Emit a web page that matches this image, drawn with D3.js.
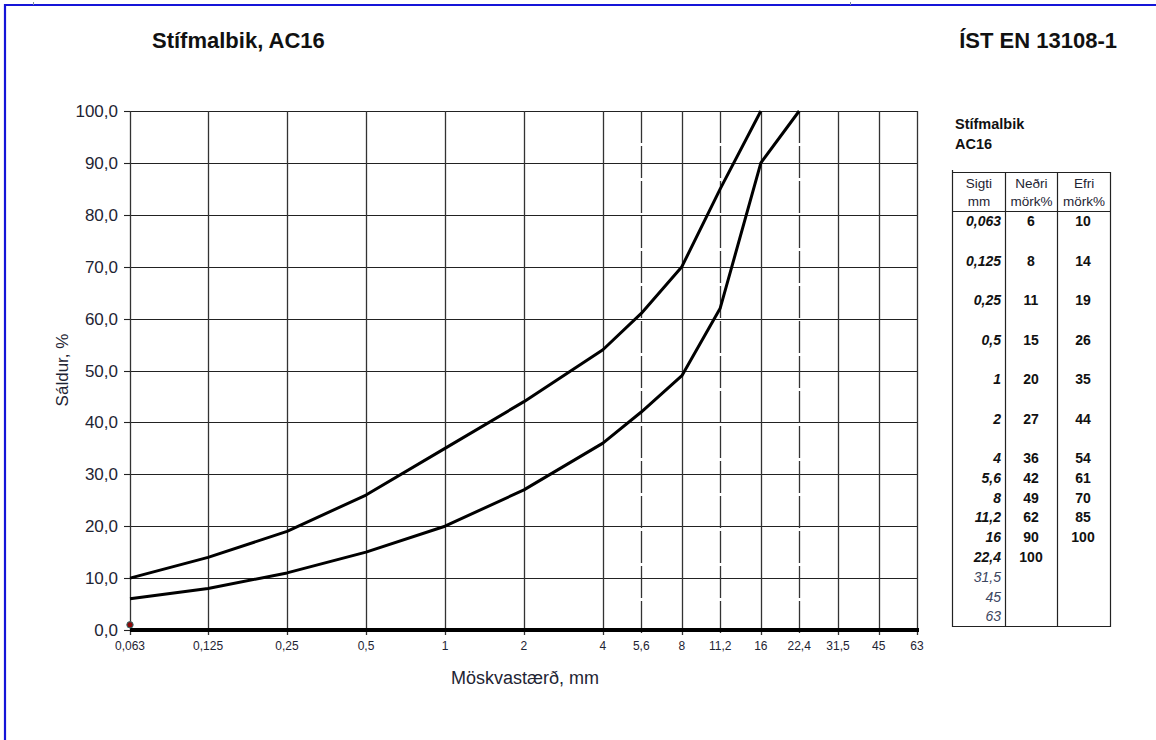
<!DOCTYPE html>
<html>
<head>
<meta charset="utf-8">
<script src="https://cdn.jsdelivr.net/npm/d3@7"></script>
<style>
  body { margin: 0; background: #fff; }
  svg { display: block; font-family: "Liberation Sans", Arial, sans-serif; }
</style>
</head>
<body>
<svg id="chart" width="1156" height="740"></svg>
<script>
// sieve sizes (mm) and grading limits (% passing)
var sieves = [0.063, 0.125, 0.25, 0.5, 1, 2, 4, 5.6, 8, 11.2, 16, 22.4, 31.5, 45, 63];
var sieveLabels = ["0,063", "0,125", "0,25", "0,5", "1", "2", "4", "5,6", "8", "11,2", "16", "22,4", "31,5", "45", "63"];
var dashedSieves = [5.6, 11.2, 22.4];
var lowerLimit = [6, 8, 11, 15, 20, 27, 36, 42, 49, 62, 90, 100];
var upperLimit = [10, 14, 19, 26, 35, 44, 54, 61, 70, 85, 100];
var yTicks = [0, 10, 20, 30, 40, 50, 60, 70, 80, 90, 100];
var markerPoint = [0.063, 1];

var svg = d3.select("#chart");

var x = d3.scaleLog().domain([0.063, 63]).range([130, 917]);
var y = d3.scaleLinear().domain([0, 100]).range([630, 111]);

// page frame
svg.append("line").attr("x1", 4).attr("x2", 1156).attr("y1", 5).attr("y2", 5)
    .attr("stroke", "#1515d8").attr("stroke-width", 2.2);
svg.append("line").attr("x1", 5).attr("x2", 5).attr("y1", 4).attr("y2", 740)
    .attr("stroke", "#1515d8").attr("stroke-width", 2.2);
svg.append("line").attr("x1", 33.5).attr("x2", 33.5).attr("y1", 2).attr("y2", 5)
    .attr("stroke", "#8090a0").attr("stroke-width", 1);
svg.append("line").attr("x1", 850.5).attr("x2", 850.5).attr("y1", 2).attr("y2", 5)
    .attr("stroke", "#8090a0").attr("stroke-width", 1);

// titles
svg.append("text").attr("x", 152).attr("y", 48)
    .attr("font-size", "22px").attr("font-weight", "bold").attr("fill", "#111")
    .text("Stífmalbik, AC16");
svg.append("text").attr("x", 1117).attr("y", 48).attr("text-anchor", "end")
    .attr("font-size", "22px").attr("font-weight", "bold").attr("fill", "#111")
    .text("ÍST EN 13108-1");

// grid
var g = svg.append("g");
g.selectAll("line.hgrid").data(yTicks.slice(1)).enter().append("line")
    .attr("class", "hgrid")
    .attr("x1", x.range()[0]).attr("x2", x.range()[1])
    .attr("y1", function (d) { return Math.round(y(d)) + 0.5; })
    .attr("y2", function (d) { return Math.round(y(d)) + 0.5; })
    .attr("stroke", "#222").attr("stroke-width", 1.1);

g.selectAll("line.vgrid").data(sieves).enter().append("line")
    .attr("class", "vgrid")
    .attr("x1", function (d) { return Math.round(x(d)) + 0.5; })
    .attr("x2", function (d) { return Math.round(x(d)) + 0.5; })
    .attr("y1", y(100)).attr("y2", y(0) + 5)
    .attr("stroke", "#333").attr("stroke-width", 1.3)
    .attr("stroke-dasharray", function (d) { return dashedSieves.indexOf(d) >= 0 ? "32,3" : null; });

// y axis ticks + labels
g.selectAll("line.ytick").data(yTicks).enter().append("line")
    .attr("x1", x.range()[0] - 6).attr("x2", x.range()[0])
    .attr("y1", function (d) { return Math.round(y(d)) + 0.5; })
    .attr("y2", function (d) { return Math.round(y(d)) + 0.5; })
    .attr("stroke", "#222").attr("stroke-width", 1.1);
g.selectAll("text.ylab").data(yTicks).enter().append("text")
    .attr("x", 118).attr("y", function (d) { return y(d) + 6; })
    .attr("text-anchor", "end").attr("font-size", "17px").attr("fill", "#1e2433")
    .text(function (d) { return d.toFixed(1).replace(".", ","); });

// x axis (thick baseline)
svg.append("line").attr("x1", x.range()[0]).attr("x2", x.range()[1] + 2)
    .attr("y1", y(0)).attr("y2", y(0))
    .attr("stroke", "#000").attr("stroke-width", 4);
g.selectAll("text.xlab").data(sieves).enter().append("text")
    .attr("x", function (d) { return x(d); }).attr("y", 650)
    .attr("text-anchor", "middle").attr("font-size", "12px").attr("fill", "#1e2433")
    .text(function (d, i) { return sieveLabels[i]; });

// axis titles
svg.append("text").attr("x", 525).attr("y", 684).attr("text-anchor", "middle")
    .attr("font-size", "18px").attr("fill", "#1e2433").text("Möskvastærð, mm");
svg.append("text").attr("transform", "translate(68,370) rotate(-90)").attr("text-anchor", "middle")
    .attr("font-size", "17px").attr("fill", "#1e2433").text("Sáldur, %");

// grading envelope
var line = d3.line()
    .x(function (d) { return x(d[0]); })
    .y(function (d) { return y(d[1]); });
[lowerLimit, upperLimit].forEach(function (series) {
    svg.append("path")
        .datum(series.map(function (v, i) { return [sieves[i], v]; }))
        .attr("d", line)
        .attr("fill", "none").attr("stroke", "#000").attr("stroke-width", 3)
        .attr("stroke-linejoin", "round");
});

svg.append("circle").attr("cx", x(markerPoint[0])).attr("cy", y(markerPoint[1])).attr("r", 3.2)
    .attr("fill", "#8b0a0a").attr("stroke", "#2f6f6f").attr("stroke-width", 1);

// side table
svg.append("text").attr("x", 955).attr("y", 129).attr("font-size", "14.5px").attr("font-weight", "bold")
    .attr("fill", "#111").text("Stífmalbik");
svg.append("text").attr("x", 955).attr("y", 149).attr("font-size", "14.5px").attr("font-weight", "bold")
    .attr("fill", "#111").text("AC16");

var colX = [952, 1005, 1057, 1110];
var t = svg.append("g").attr("font-size", "14px");
colX.forEach(function (cx, i) {
    t.append("line").attr("x1", cx + 0.5).attr("x2", cx + 0.5)
        .attr("y1", i === 0 ? 170 : 172).attr("y2", 627)
        .attr("stroke", "#222").attr("stroke-width", 1.2);
});
[172, 211, 626].forEach(function (ly) {
    t.append("line").attr("x1", 952).attr("x2", 1111).attr("y1", ly + 0.5).attr("y2", ly + 0.5)
        .attr("stroke", "#222").attr("stroke-width", 1.2);
});
var headers = [["Sigti", "mm"], ["Neðri", "mörk%"], ["Efri", "mörk%"]];
headers.forEach(function (h, i) {
    var cx = (colX[i] + colX[i + 1]) / 2 + 0.5;
    t.append("text").attr("x", cx).attr("y", 188).attr("text-anchor", "middle")
        .attr("font-size", "13.5px").attr("fill", "#1e2433").text(h[0]);
    t.append("text").attr("x", cx).attr("y", 206).attr("text-anchor", "middle")
        .attr("font-size", "13.5px").attr("fill", "#1e2433").text(h[1]);
});

var rowTop = 211;
sieves.forEach(function (s, i) {
    var cy = rowTop + 10;
    var used = i < lowerLimit.length;
    t.append("text").attr("x", 1001).attr("y", cy + 5).attr("text-anchor", "end")
        .attr("font-style", "italic").attr("font-weight", used ? "bold" : "normal")
        .attr("fill", used ? "#111" : "#3c4660").text(sieveLabels[i]);
    if (i < lowerLimit.length) {
        t.append("text").attr("x", 1031).attr("y", cy + 5).attr("text-anchor", "middle")
            .attr("font-weight", "bold").attr("fill", "#111").text(lowerLimit[i]);
    }
    if (i < upperLimit.length) {
        t.append("text").attr("x", 1083).attr("y", cy + 5).attr("text-anchor", "middle")
            .attr("font-weight", "bold").attr("fill", "#111").text(upperLimit[i]);
    }
    rowTop += s < 4 ? 39.5 : 19.8;
});
</script>
</body>
</html>
